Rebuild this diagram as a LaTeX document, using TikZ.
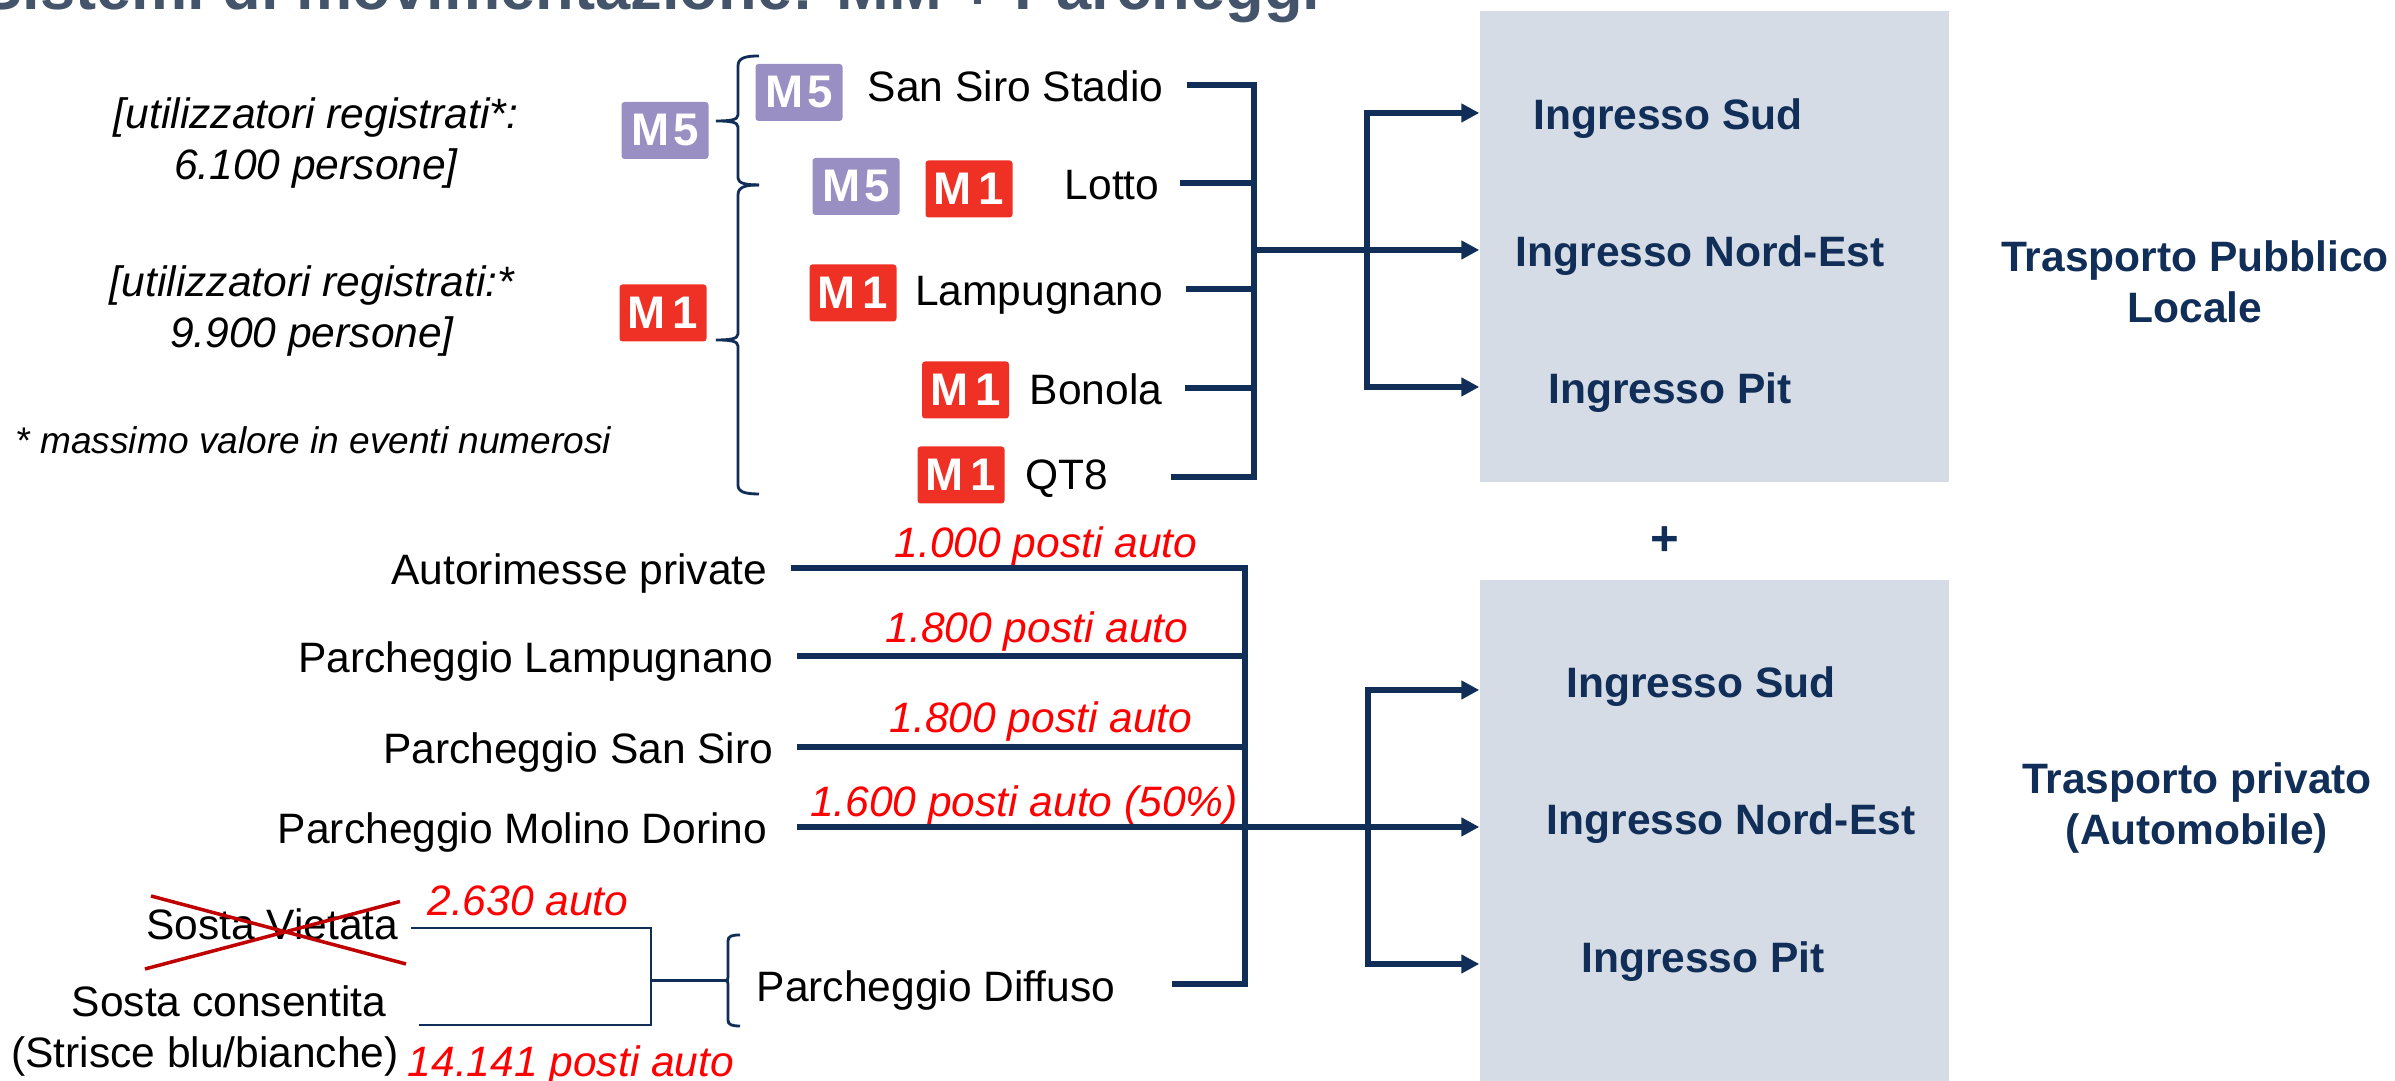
\documentclass[tikz,border=0pt]{standalone}
\usepackage{fontspec}
\setmainfont{Liberation Sans}
\usepackage{xcolor}
\usetikzlibrary{arrows.meta}
\definecolor{navy}{HTML}{102E57}
\definecolor{titlegrey}{HTML}{44546A}
\definecolor{boxgrey}{HTML}{D6DCE5}
\definecolor{lineM}{HTML}{EE3124}
\definecolor{lineV}{HTML}{9A8FC2}
\definecolor{crossred}{HTML}{C00000}
\tikzset{
	lbl/.style = {anchor = east, inner sep = 0pt, text height = 0.34cm, text depth = 0cm, font = \fontsize{12.1}{14.5}\selectfont},
	gate/.style = {inner sep = 0pt, text height = 0.34cm, text depth = 0cm, text = navy, font = \fontsize{12.1}{14.5}\selectfont\bfseries},
	side/.style = {inner sep = 0pt, align = center, text = navy, font = \fontsize{12.1}{14.5}\selectfont\bfseries},
	note/.style = {inner sep = 0pt, align = center, font = \fontsize{12.1}{14.5}\selectfont\itshape},
	seats/.style = {inner sep = 0pt, text = red, font = \fontsize{12.1}{14.5}\selectfont\itshape},
	badge/.style = {rounded corners = 0.03cm, minimum width = 0.87cm, minimum height = 0.57cm, inner sep = 0pt, text = white, font = \fontsize{13}{14}\selectfont\bfseries},
	m1/.style = {badge, fill = lineM},
	m5/.style = {badge, fill = lineV},
	zone/.style = {fill = boxgrey, minimum width = 4.69cm, inner sep = 0pt},
	link/.style = {navy, line width = 1.7pt},
	thinlink/.style = {navy, line width = 0.8pt},
	tip/.style = {-{Triangle[length = 0.18cm, width = 0.18cm]}},
	cross/.style = {crossred, line width = 1pt}
}
\begin{document}
\begin{tikzpicture}
	\clip (0,0) rectangle (23.95,10.81);
	\node[anchor = base east, inner sep = 0pt, text = titlegrey, font = \fontsize{18}{20}\selectfont\bfseries] (title) at (13.21,10.71) {Sistemi di movimentazione: MM + Parcheggi};

	\node[zone, minimum height = 4.71cm] (boxA) at (17.145,8.345) {};
	\node[zone, minimum height = 5.01cm] (boxB) at (17.145,2.505) {};

	\node[note] (usersA) at (3.16,9.38) {[utilizzatori registrati*:\\6.100 persone]};
	\node[note] (usersB) at (3.12,7.70) {[utilizzatori registrati:*\\9.900 persone]};
	\node[note, anchor = west, font = \fontsize{10.55}{12}\selectfont\itshape] (maxnote) at (0.15,6.41) {* massimo valore in eventi numerosi};

	\node[m5] (lineA) at (6.65,9.505) {M\kern1pt 5};
	\node[m1] (lineB) at (6.63,7.68) {M\kern2pt 1};
	\node[m5] (badgeSan) at (7.99,9.885) {M\kern1pt 5};
	\node[m5] (badgeLottoA) at (8.56,8.945) {M\kern1pt 5};
	\node[m1] (badgeLottoB) at (9.69,8.92) {M\kern2pt 1};
	\node[m1] (badgeLamp) at (8.53,7.88) {M\kern2pt 1};
	\node[m1] (badgeBon) at (9.655,6.91) {M\kern2pt 1};
	\node[m1] (badgeQt) at (9.61,6.06) {M\kern2pt 1};

	\draw[thinlink] (7.59,10.25) .. controls (7.45,10.25) and (7.38,10.23) .. (7.38,10.15) -- (7.38,9.66) .. controls (7.38,9.61) and (7.30,9.60) .. (7.16,9.60) .. controls (7.30,9.60) and (7.38,9.59) .. (7.38,9.54) -- (7.38,9.03) .. controls (7.38,8.98) and (7.45,8.96) .. (7.59,8.96);
	\draw[thinlink] (7.59,8.96) .. controls (7.45,8.96) and (7.38,8.94) .. (7.38,8.86) -- (7.38,7.47) .. controls (7.38,7.42) and (7.30,7.41) .. (7.16,7.41) .. controls (7.30,7.41) and (7.38,7.40) .. (7.38,7.35) -- (7.38,5.96) .. controls (7.38,5.89) and (7.45,5.87) .. (7.59,5.87);

	\node[lbl] (sansiro) at (11.64,9.96) {San Siro Stadio};
	\node[lbl] (lotto) at (11.60,8.98) {Lotto};
	\node[lbl] (lampugnano) at (11.64,7.92) {Lampugnano};
	\node[lbl] (bonola) at (11.63,6.93) {Bonola};
	\node[lbl] (qt) at (11.09,6.08) {QT8};

	\coordinate (busA) at (12.54,8.31);
	\coordinate (branchA) at (13.67,8.31);
	\node[gate] (sudA) at (16.68,9.68) {Ingresso Sud};
	\node[gate] (nordA) at (17.00,8.31) {Ingresso Nord-Est};
	\node[gate] (pitA) at (16.70,6.94) {Ingresso Pit};

	\draw[link] ([xshift = 0.23cm]sansiro.east) -| (busA);
	\draw[link] ([xshift = 0.20cm]lotto.east) -- (lotto.east -| busA);
	\draw[link] ([xshift = 0.22cm]lampugnano.east) -- (lampugnano.east -| busA);
	\draw[link] ([xshift = 0.22cm]bonola.east) -- (bonola.east -| busA);
	\draw[link] ([xshift = 0.62cm, yshift = -0.04cm]qt.east) -| (busA);
	\draw[link, tip] (busA) -- (nordA -| boxA.west);
	\draw[link, tip] (branchA) |- (sudA -| boxA.west);
	\draw[link, tip] (branchA) |- (pitA -| boxA.west);

	\node[side] (tpl) at (21.95,7.99) {Trasporto Pubblico\\Locale};
	\node[inner sep = 0pt, text = navy, font = \fontsize{14}{16}\selectfont\bfseries] (plus) at (16.65,5.40) {+};
	\node[side] (car) at (21.97,2.73) {Trasporto privato\\(Automobile)};

	\node[lbl] (autorimesse) at (7.68,5.13) {Autorimesse private};
	\node[lbl] (parcLamp) at (7.74,4.25) {Parcheggio Lampugnano};
	\node[lbl] (parcSan) at (7.74,3.34) {Parcheggio San Siro};
	\node[lbl] (molino) at (7.68,2.54) {Parcheggio Molino Dorino};
	\node[lbl] (diffuso) at (11.16,0.965) {Parcheggio Diffuso};

	\node[seats] (seatsAuto) at (10.46,5.34) {1.000 posti auto};
	\node[seats] (seatsLamp) at (10.37,4.49) {1.800 posti auto};
	\node[seats] (seatsSan) at (10.41,3.59) {1.800 posti auto};
	\node[seats] (seatsMol) at (10.24,2.75) {1.600 posti auto (50\%)};
	\node[seats] (seatsVie) at (5.28,1.80) {2.630 auto};
	\node[seats] (seatsCons) at (5.71,0.15) {14.141 posti auto};

	\coordinate (busB) at (12.45,2.54);
	\coordinate (branchB) at (13.68,2.54);
	\node[gate] (sudB) at (17.01,4.00) {Ingresso Sud};
	\node[gate] (nordB) at (17.31,2.63) {Ingresso Nord-Est};
	\node[gate] (pitB) at (17.03,1.25) {Ingresso Pit};

	\draw[link] ([xshift = 0.23cm]autorimesse.east) -| (busB);
	\draw[link] ([xshift = 0.23cm]parcLamp.east) -- (parcLamp.east -| busB);
	\draw[link] ([xshift = 0.23cm]parcSan.east) -- (parcSan.east -| busB);
	\draw[link] ([xshift = 0.56cm]diffuso.east) -| (busB);
	\draw[link, tip] ([xshift = 0.29cm]molino.east) -- (molino.east -| boxB.west);
	\draw[link, tip] (branchB) |- ([yshift = -0.09cm]sudB -| boxB.west);
	\draw[link, tip] (branchB) |- ([yshift = -0.08cm]pitB -| boxB.west);

	\node[lbl] (vietata) at (3.99,1.58) {Sosta Vietata};
	\node[lbl] (consentita) at (3.87,0.81) {Sosta consentita};
	\node[lbl] (strisce) at (3.995,0.30) {(Strisce blu/bianche)};

	\draw[cross] (1.51,1.85) -- (4.06,1.17);
	\draw[cross] (1.45,1.12) -- (4.00,1.795);

	\coordinate (joinA) at (6.51,1.005);
	\coordinate (joinB) at (7.24,1.005);
	\draw[thinlink] ([xshift = 0.12cm, yshift = -0.05cm]vietata.east) -| (joinA);
	\draw[thinlink] ([xshift = 0.195cm, yshift = 0.26cm]strisce.east) -| (joinA);
	\draw[thinlink] (joinA) -- (joinB);
	\draw[thinlink] (7.40,1.46) .. controls (7.32,1.46) and (7.28,1.45) .. (7.28,1.40) -- (7.28,1.04) .. controls (7.28,1.01) .. (7.24,1.005) .. controls (7.28,1.00) .. (7.28,0.97) -- (7.28,0.61) .. controls (7.28,0.56) and (7.32,0.55) .. (7.40,0.55);
\end{tikzpicture}
\end{document}
